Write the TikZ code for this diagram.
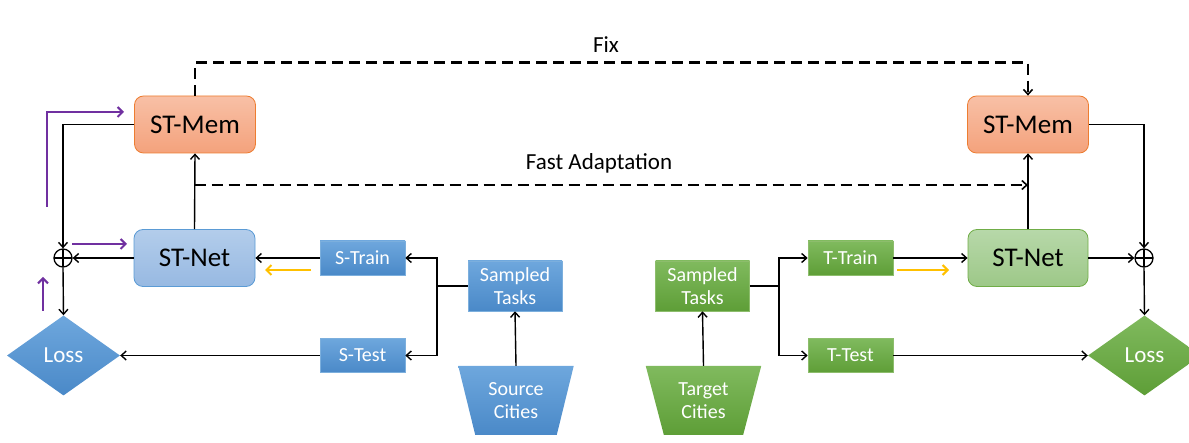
\documentclass[tikz,border=0pt]{standalone}
\usepackage{fontspec}
\setmainfont{Carlito}
\usetikzlibrary{arrows.meta,shapes.geometric}
\definecolor{orTop}{HTML}{F8C0A6}
\definecolor{orBot}{HTML}{F4A27C}
\definecolor{orBd}{HTML}{ED7D31}
\definecolor{blTop}{HTML}{B3CDEB}
\definecolor{blBot}{HTML}{97B9E2}
\definecolor{blBd}{HTML}{5B9BD5}
\definecolor{bxTop}{HTML}{6EA7DD}
\definecolor{bxBot}{HTML}{4A89C8}
\definecolor{grTop}{HTML}{B7D8A9}
\definecolor{grBot}{HTML}{9DC888}
\definecolor{grBd}{HTML}{70AD47}
\definecolor{gxTop}{HTML}{80BA5E}
\definecolor{gxBot}{HTML}{5E9E37}
\definecolor{purp}{HTML}{7030A0}
\definecolor{yel}{HTML}{FFC000}
\tikzset{
  x=1pt,y=-1pt,
  >={Straight Barb[length=5pt,width=9pt]},
  conn/.style={draw=black,line width=1.4pt,->},
  plain/.style={draw=black,line width=1.4pt},
  dasharrow/.style={draw=black,line width=2.6pt,dash pattern=on 11pt off 6pt,->,>={Straight Barb[length=5pt,width=9pt,line width=1.6pt]}},
  membox/.style={rectangle,rounded corners=9pt,top color=orTop,bottom color=orBot,draw=orBd,line width=0.8pt,minimum width=121pt,minimum height=57pt,font=\fontsize{27}{30}\selectfont},
  netbl/.style={rectangle,rounded corners=9pt,top color=blTop,bottom color=blBot,draw=blBd,line width=0.8pt,minimum width=121pt,minimum height=57pt,font=\fontsize{27}{30}\selectfont},
  netgr/.style={rectangle,rounded corners=9pt,top color=grTop,bottom color=grBot,draw=grBd,line width=0.8pt,minimum width=120pt,minimum height=57pt,font=\fontsize{27}{30}\selectfont},
  bbox/.style={rectangle,top color=bxTop,bottom color=bxBot,draw=blBd!80!white,line width=0.6pt,text=white,font=\fontsize{20}{23}\selectfont,align=center},
  gbox/.style={rectangle,top color=gxTop,bottom color=gxBot,draw=grBd!80!white,line width=0.6pt,text=white,font=\fontsize{20}{23}\selectfont,align=center},
  smallbox/.style={minimum width=85pt,minimum height=34pt,inner sep=0pt},
  taskbox/.style={minimum width=94pt,minimum height=50pt,inner sep=0pt},
  trap/.style={trapezium,trapezium stretches=true,shape border rotate=180,trapezium angle=72.3,minimum width=116pt,minimum height=69pt,inner sep=0pt,text=white,font=\fontsize{20}{23}\selectfont,align=center},
  lossd/.style={diamond,aspect=1.41,minimum width=113pt,minimum height=80pt,inner sep=0pt,text=white,font=\fontsize{23}{26}\selectfont},
  oplus/.style={circle,draw=black,line width=1.3pt,minimum size=18pt,inner sep=0pt,
    path picture={\draw[line width=1.1pt] (path picture bounding box.north) -- (path picture bounding box.south) (path picture bounding box.west) -- (path picture bounding box.east);}},
  lab/.style={font=\fontsize{23}{25}\selectfont},
  purpar/.style={draw=purp,line width=2.2pt,->,>={Straight Barb[length=5pt,width=10pt,line width=2pt]}},
  yelar/.style={draw=yel,line width=2.2pt,->,>={Straight Barb[length=5pt,width=10pt,line width=2pt]}}
}
\begin{document}
\begin{tikzpicture}
\useasboundingbox (0,0) rectangle (1189,443);
% left side
\node[membox] (lmem) at (195,124.5) {ST-Mem};
\node[netbl] (lnet) at (194.5,258) {ST-Net};
\node[bbox,smallbox] (strain) at (362.5,258) {S-Train};
\node[bbox,smallbox] (stest) at (362.5,355.5) {S-Test};
\node[bbox,taskbox] (lsamp) at (515,286) {Sampled\\Tasks};
\node[trap,top color=bxTop,bottom color=bxBot] (lsrc) at (516,400.5) {Source\\Cities};
\node[lossd,top color=bxTop,bottom color=bxBot] (lloss) at (63.5,355.5) {Loss};
\node[oplus] (lplus) at (63,258) {};
% right side
\node[membox] (rmem) at (1028,124.5) {ST-Mem};
\node[netgr] (rnet) at (1028,258) {ST-Net};
\node[gbox,smallbox] (ttrain) at (850.5,258) {T-Train};
\node[gbox,smallbox] (ttest) at (850.5,355.5) {T-Test};
\node[gbox,taskbox] (rsamp) at (702.5,286) {Sampled\\Tasks};
\node[trap,top color=gxTop,bottom color=gxBot] (rsrc) at (703.5,400.5) {Target\\Cities};
\node[lossd,top color=gxTop,bottom color=gxBot] (rloss) at (1144.5,355.5) {Loss};
\node[oplus] (rplus) at (1144,258) {};
% labels
\node[lab] (fix) at (606,45) {Fix};
\node[lab] (fa) at (599,163) {Fast Adaptation};
% left connectors
\draw[conn] (lmem.west) -| (lplus.north);
\draw[conn] (lnet.west) -- (lplus.east);
\draw[conn] (lplus.south) -- (lloss.north);
\draw[conn] (strain.west) -- (lnet.east);
\draw[conn] (stest.west) -- (lloss.east);
\coordinate (ls) at (437,286);
\draw[plain] (lsamp.west) -- (ls);
\draw[conn] (ls) |- (strain.east);
\draw[conn] (ls) |- (stest.east);
\draw[conn] (lsrc.north) -- (lsamp.south);
\draw[conn] (lnet.north) -- (lmem.south);
% right connectors
\draw[conn] (rmem.east) -| (rplus.north);
\draw[conn] (rnet.east) -- (rplus.west);
\draw[conn] (rplus.south) -- (rloss.north);
\draw[conn] (ttrain.east) -- (rnet.west);
\draw[conn] (ttest.east) -- (rloss.west);
\coordinate (rs) at (779,286);
\draw[plain] (rsamp.east) -- (rs);
\draw[conn] (rs) |- (ttrain.west);
\draw[conn] (rs) |- (ttest.west);
\draw[conn] (rsrc.north) -- (rsamp.south);
\draw[conn] (rnet.north) -- (rmem.south);
% dashed
\draw[dasharrow] (lmem.north) -- ++(0,-33) -| (rmem.north);
\coordinate (fas) at (194.5,185);
\coordinate (fae) at (1028,185);
\draw[dasharrow] (fas) -- (fae);
% purple arrows
\coordinate (p1a) at (47,207);
\coordinate (p1b) at (47,112);
\coordinate (p1c) at (124,112);
\draw[purpar] (p1a) -- (p1b) -- (p1c);
\coordinate (p2a) at (72,244);
\coordinate (p2b) at (127,244);
\draw[purpar] (p2a) -- (p2b);
\coordinate (p3a) at (43,311);
\coordinate (p3b) at (43,277);
\draw[purpar] (p3a) -- (p3b);
% yellow arrows
\coordinate (y1a) at (311,270);
\coordinate (y1b) at (265,270);
\draw[yelar] (y1a) -- (y1b);
\coordinate (y2a) at (897,270);
\coordinate (y2b) at (949,270);
\draw[yelar] (y2a) -- (y2b);
\end{tikzpicture}
\end{document}
